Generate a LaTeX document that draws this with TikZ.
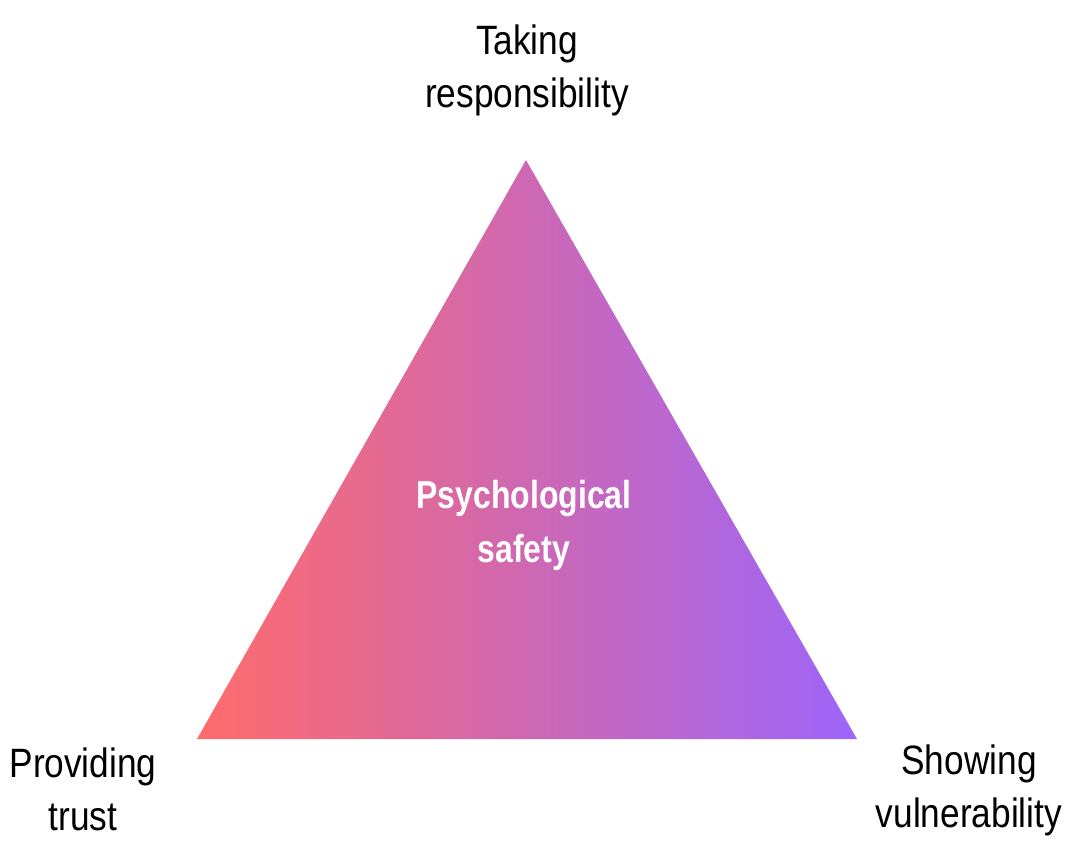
\documentclass[tikz,border=0pt]{standalone}
\usepackage{fontspec}
\setmainfont{Liberation Sans}[FakeStretch=0.86]
\newfontfamily\condbold{Liberation Sans}[FakeStretch=0.82]
\definecolor{leftc}{HTML}{FF6B6B}
\definecolor{rightc}{HTML}{9D65FA}
\tikzset{
  lbl/.style={align=center, text=black, inner sep=0pt, font=\fontsize{41}{53}\selectfont},
  inlbl/.style={align=center, text=white, inner sep=0pt, font=\fontsize{39}{54}\selectfont\condbold\bfseries},
}
\begin{document}
\begin{tikzpicture}[x=1pt,y=-1pt]
\useasboundingbox (0,0) rectangle (1084,865);
\coordinate (apex) at (526,160);
\coordinate (bl) at (197,739);
\coordinate (br) at (857,739);
\shade[left color=leftc, right color=rightc] (apex) -- (br) -- (bl) -- cycle;
\node[inlbl] (center) at (524,525) {Psychological\\safety};
\node[lbl] (top) at (527,70) {Taking\\responsibility};
\node[lbl] (left) at (83,789) {Providing\\trust};
\node[lbl] (right) at (969,790) {Showing\\vulnerability};
\end{tikzpicture}
\end{document}
